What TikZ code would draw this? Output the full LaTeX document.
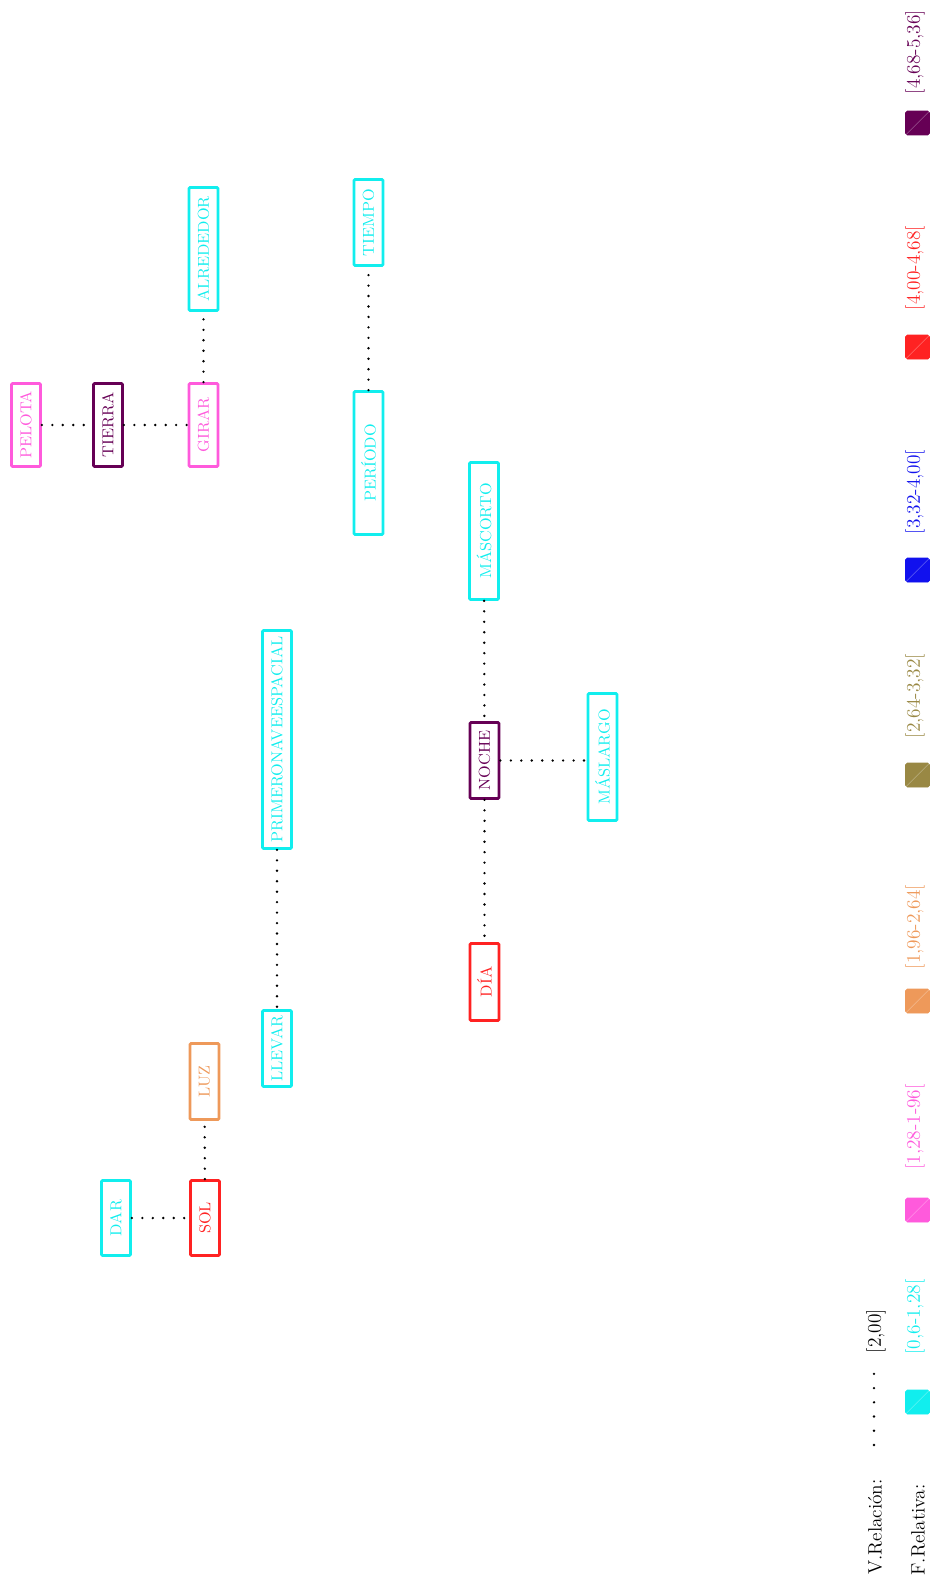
\documentclass[tikz,border=0pt]{standalone}
\usepackage{tikz}
\usetikzlibrary{positioning,calc}
\usepackage{xcolor}
\definecolor{lcyan}{RGB}{17,238,238}
\definecolor{lpink}{RGB}{255,90,220}
\definecolor{lorange}{RGB}{238,153,90}
\definecolor{lolive}{RGB}{153,136,68}
\definecolor{lblue}{RGB}{17,17,238}
\definecolor{lred}{RGB}{255,34,34}
\definecolor{lpurple}{RGB}{102,0,85}
\tikzset{
  word/.style={draw=#1, text=#1, rotate=90, line width=1.6pt, inner sep=0pt,
    minimum height=0.58cm, rounded corners=0.6pt, font=\fontsize{9}{11}\selectfont},
  rel/.style={line width=1.5pt, line cap=round, dash pattern=on 0pt off 5.95pt},
  relkey/.style={line width=1.5pt, line cap=round, dash pattern=on 0pt off 8.1pt},
  legtext/.style={text=#1, rotate=90, inner sep=0pt, font=\fontsize{11}{13}\selectfont},
  legbox/.style={fill=#1, draw=#1, line width=0.4pt, rounded corners=1pt,
    minimum size=0.48cm, inner sep=0pt}
}

\begin{document}
\begin{tikzpicture}[x=0.02cm, y=-0.02cm]
            \useasboundingbox (0,0) rectangle (931,1582);

            % --- upper group: tierra ---
            \node[word=lpink, minimum width=1.66cm] (pelota) at (26,425) {PELOTA};
            \node[word=lpurple, minimum width=1.66cm] (tierra) at (108,425) {TIERRA};
            \node[word=lpink, minimum width=1.66cm] (girar) at (203.5,425) {GIRAR};
            \node[word=lcyan, minimum width=2.46cm] (alrededor) at (203.5,249) {ALREDEDOR};
            \draw[rel] (pelota) -- (tierra);
            \draw[rel] (tierra) -- (girar);
            \draw[rel] (girar) -- (alrededor);

            % --- periodo / tiempo ---
            \node[word=lcyan, minimum width=1.72cm] (tiempo) at (368.5,222.5) {TIEMPO};
            \node[word=lcyan, minimum width=2.86cm] (periodo) at (368.5,463) {PERÍODO};
            \draw[rel] (periodo) -- (tiempo);

            % --- noche ---
            \node[word=lcyan, minimum width=2.74cm] (mascorto) at (484,531) {MÁSCORTO};
            \node[word=lpurple, minimum width=1.52cm] (noche) at (484.5,760.5) {NOCHE};
            \node[word=lcyan, minimum width=2.54cm] (maslargo) at (602.5,757) {MÁSLARGO};
            \node[word=lred, minimum width=1.54cm] (dia) at (484.5,982) {DÍA};
            \draw[rel] (mascorto) -- (noche);
            \draw[rel] (noche) -- (noche -| maslargo.north);
            \draw[rel] (noche) -- (dia);

            % --- llevar ---
            \node[word=lcyan, minimum width=4.36cm] (primero) at (277,739.5) {PRIMERONAVEESPACIAL};
            \node[word=lcyan, minimum width=1.52cm] (llevar) at (277,1048.5) {LLEVAR};
            \draw[rel] (primero) -- (llevar);

            % --- sol ---
            \node[word=lorange, minimum width=1.52cm] (luz) at (204.5,1081.5) {LUZ};
            \node[word=lcyan, minimum width=1.50cm] (dar) at (116,1218) {DAR};
            \node[word=lred, minimum width=1.50cm] (sol) at (205,1218) {SOL};
            \draw[rel] (sol) -- (luz);
            \draw[rel] (dar) -- (sol);

            % --- legend: V.Relacion ---
            \node[legtext=black] (vrel) at (875,1527) {V.Relación:};
            \coordinate (vrela) at (874,1445);
            \coordinate (vrelb) at (874,1373);
            \draw[relkey] (vrela) -- (vrelb);
            \node[legtext=black] (vrelval) at (876,1331) {[2,00]};

            % --- legend: F.Relativa ---
            \node[legtext=black] (frel) at (918,1530) {F.Relativa:};
            \node[legbox=lcyan] (fa) at (917.5,1402) {};
            \node[legtext=lcyan] (fatext) at (915,1317) {[0,6-1,28[};
            \node[legbox=lpink] (fb) at (917.5,1210) {};
            \node[legtext=lpink] (fbtext) at (915,1127) {[1,28-1-96[};
            \node[legbox=lorange] (fc) at (917.5,1001) {};
            \node[legtext=lorange] (fctext) at (915,927) {[1,96-2,64[};
            \node[legbox=lolive] (fd) at (917.5,775) {};
            \node[legtext=lolive] (fdtext) at (915,696) {[2,64-3,32[};
            \node[legbox=lblue] (fe) at (917.5,570) {};
            \node[legtext=lblue] (fetext) at (915,492) {[3,32-4,00[};
            \node[legbox=lred] (ff) at (917.5,347) {};
            \node[legtext=lred] (fftext) at (915,268) {[4,00-4,68[};
            \node[legbox=lpurple] (fg) at (917.5,123) {};
            \node[legtext=lpurple] (fgtext) at (915,52) {[4,68-5,36]};
            \foreach \b in {fa,fb,fc,fd,fe,ff,fg}
              \draw[white, opacity=0.45, very thin] (\b.south west) -- (\b.north east);
\end{tikzpicture}
\end{document}
